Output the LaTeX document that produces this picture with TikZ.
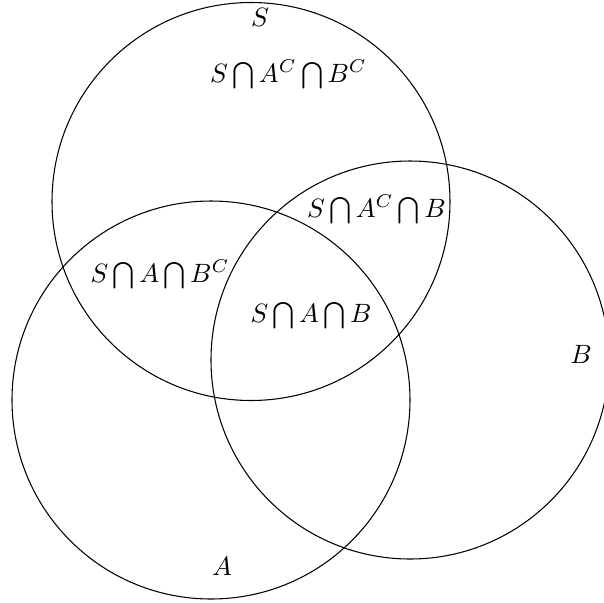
\documentclass[tikz,border=0pt]{standalone}
\begin{document}
\begin{tikzpicture}[x=0.013267cm,y=-0.013267cm,
  setcirc/.style={draw,circle,minimum size=398\pgflinewidth,inner sep=0pt},
  lbl/.style={anchor=base,inner sep=0pt}]
\useasboundingbox (0,0) rectangle (603,603);
\draw (251,201.5) circle[radius=199];
\draw (211,400) circle[radius=199];
\draw (410,360) circle[radius=199];
\node[lbl] (s) at (260,26) {$S$};
\node[lbl] (a) at (222,575) {$A$};
\node[lbl] (b) at (581,363) {$B$};
\node[lbl] (sacbc) at (288.5,82) {$S\bigcap A^C\bigcap B^C$};
\node[lbl] (sacb) at (376.5,217) {$S\bigcap A^C\bigcap B$};
\node[lbl] (sabc) at (160,282) {$S\bigcap A\bigcap B^C$};
\node[lbl] (sab) at (311,322) {$S\bigcap A\bigcap B$};
\end{tikzpicture}
\end{document}
